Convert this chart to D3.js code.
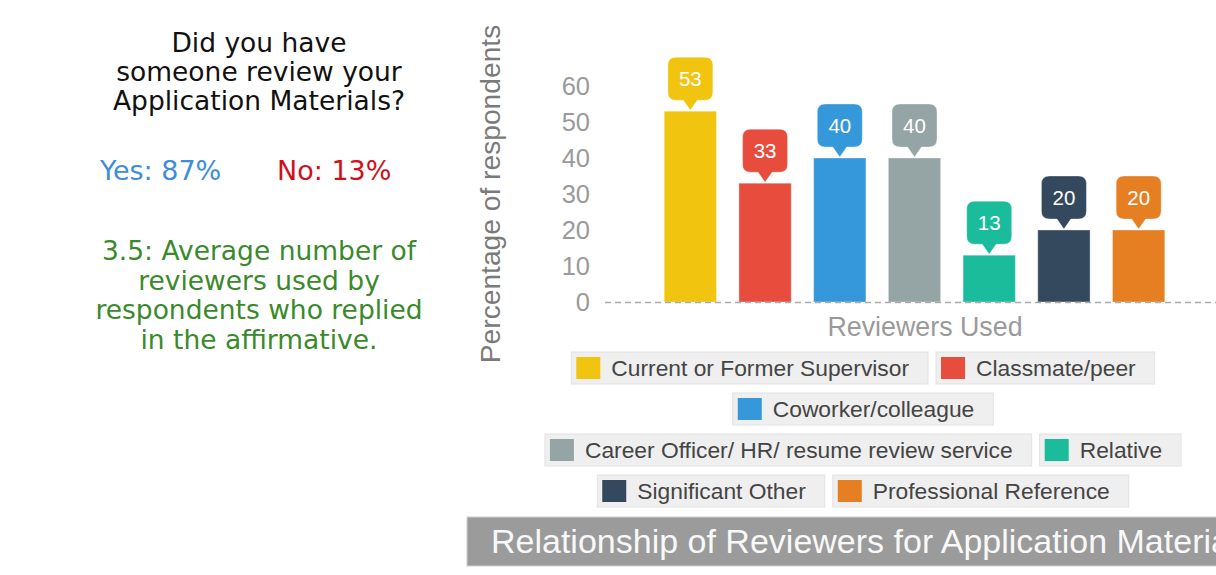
<!DOCTYPE html>
<html>
<head>
<meta charset="utf-8">
<script src="https://cdn.jsdelivr.net/npm/d3@7/dist/d3.min.js"></script>
<style>
  html, body { margin: 0; padding: 0; background: #fff; }
  svg { display: block; }
</style>
</head>
<body>
<div id="chart"></div>
<script>
// reviewer categories and the share of respondents using each
const categories = [
  "Current or Former Supervisor",
  "Classmate/peer",
  "Coworker/colleague",
  "Career Officer/ HR/ resume review service",
  "Relative",
  "Significant Other",
  "Professional Reference"
];
const values = [53, 33, 40, 40, 13, 20, 20];
const colors = ["#f1c40f", "#e74c3c", "#3498db", "#95a5a6", "#1abc9c", "#34495e", "#e67e22"];
const yTicks = [0, 10, 20, 30, 40, 50, 60];

const questionLines = ["Did you have", "someone review your", "Application Materials?"];
const yesText = "Yes: 87%";
const noText = "No: 13%";
const averageLines = ["3.5: Average number of", "reviewers used by", "respondents who replied", "in the affirmative."];

const width = 1216, height = 575;
const sans = "'Liberation Sans', Arial, Helvetica, sans-serif";
const wide = "'DejaVu Sans', 'Liberation Sans', sans-serif";

const svg = d3.select("#chart").append("svg")
    .attr("width", width)
    .attr("height", height);

// ---- left hand text block ----
const left = svg.append("g").attr("font-family", wide).attr("text-anchor", "middle");
left.selectAll("text.q")
    .data(questionLines)
    .join("text")
      .attr("class", "q")
      .attr("x", 259)
      .attr("y", (d, i) => 52 + i * 29)
      .attr("font-size", 26.5)
      .attr("fill", "#111")
      .text(d => d);

left.append("text")
    .attr("x", 100).attr("y", 180)
    .attr("text-anchor", "start")
    .attr("font-size", 27)
    .attr("fill", "#3d8ddb")
    .text(yesText);
left.append("text")
    .attr("x", 277).attr("y", 180)
    .attr("text-anchor", "start")
    .attr("font-size", 27)
    .attr("fill", "#d0101a")
    .text(noText);

left.selectAll("text.avg")
    .data(averageLines)
    .join("text")
      .attr("class", "avg")
      .attr("x", 259)
      .attr("y", (d, i) => 260 + i * 29.5)
      .attr("font-size", 26.5)
      .attr("fill", "#3a8a2c")
      .text(d => d);

// ---- bar chart ----
const y = d3.scaleLinear().domain([0, 60]).range([302, 86]);
const x = d3.scaleBand()
    .domain(categories)
    .range([653, 1176])
    .paddingInner(0.3)
    .paddingOuter(0.15);
const color = d3.scaleOrdinal(categories, colors);

const data = categories.map((c, i) => ({ name: c, value: values[i] }));

const yAxis = svg.append("g")
    .attr("transform", "translate(590,0)")
    .call(d3.axisLeft(y).tickValues(yTicks).tickSize(0).tickPadding(0));
yAxis.select(".domain").remove();
yAxis.selectAll("text")
    .attr("font-family", sans)
    .attr("font-size", 25.5)
    .attr("fill", "#9a9a9a");

// axis titles
svg.append("text")
    .attr("transform", "translate(500,194) rotate(-90)")
    .attr("text-anchor", "middle")
    .attr("font-family", sans)
    .attr("font-size", 28.2)
    .attr("fill", "#7a7a7a")
    .text("Percentage of respondents");

svg.append("text")
    .attr("x", 925).attr("y", 336)
    .attr("text-anchor", "middle")
    .attr("font-family", sans)
    .attr("font-size", 26.8)
    .attr("fill", "#9a9a9a")
    .text("Reviewers Used");

// bars
svg.selectAll("rect.bar")
    .data(data)
    .join("rect")
      .attr("class", "bar")
      .attr("x", d => x(d.name))
      .attr("y", d => y(d.value))
      .attr("width", x.bandwidth())
      .attr("height", d => y(0) - y(d.value))
      .attr("fill", d => color(d.name))
      .attr("stroke", "rgba(255,255,255,0.35)")
      .attr("stroke-width", 1);

// dashed zero line
svg.append("line")
    .attr("x1", 605).attr("x2", width)
    .attr("y1", y(0) + 0.5).attr("y2", y(0) + 0.5)
    .attr("stroke", "#aaa")
    .attr("stroke-width", 1.5)
    .attr("stroke-dasharray", "6,4");

// value callouts (rounded box with a pointer down to the bar)
function bubble(cx, tip) {
  const w = 45, h = 43, r = 8, ph = 10, pw = 7;
  const bottom = tip - ph, top = bottom - h;
  const l = cx - w / 2, rt = cx + w / 2;
  return `M${l + r},${top} H${rt - r} Q${rt},${top} ${rt},${top + r} V${bottom - r}` +
         ` Q${rt},${bottom} ${rt - r},${bottom} H${cx + pw} L${cx},${tip} L${cx - pw},${bottom}` +
         ` H${l + r} Q${l},${bottom} ${l},${bottom - r} V${top + r} Q${l},${top} ${l + r},${top} Z`;
}

const callouts = svg.selectAll("g.callout")
    .data(data)
    .join("g")
      .attr("class", "callout");
callouts.append("path")
    .attr("d", d => bubble(x(d.name) + x.bandwidth() / 2, y(d.value) - 1))
    .attr("fill", d => color(d.name))
    .attr("stroke", "rgba(255,255,255,0.35)");
callouts.append("text")
    .attr("x", d => x(d.name) + x.bandwidth() / 2)
    .attr("y", d => y(d.value) - 11 - 21.5)
    .attr("dy", "0.35em")
    .attr("text-anchor", "middle")
    .attr("font-family", sans)
    .attr("font-size", 20.5)
    .attr("fill", "#fff")
    .text(d => d.value);

// ---- legend, wrapped into centred rows ----
const legendCenter = 863, legendMax = 660, legendTop = 352, rowStep = 41;
const boxH = 32, gap = 8, textOffset = 40, padRight = 19;

const legend = svg.append("g").attr("font-family", sans).attr("font-size", 22.8);
const items = legend.selectAll("g.item")
    .data(data)
    .join("g")
      .attr("class", "item");
items.append("rect")
    .attr("class", "bg")
    .attr("height", boxH)
    .attr("fill", "#efefef")
    .attr("stroke", "#e2e2e2");
items.append("rect")
    .attr("x", 5).attr("y", 5)
    .attr("width", 24).attr("height", 22)
    .attr("fill", d => color(d.name));
items.append("text")
    .attr("x", textOffset)
    .attr("y", 24)
    .attr("fill", "#444")
    .text(d => d.name);

items.each(function (d) {
  d.w = textOffset + this.querySelector("text").getComputedTextLength() + padRight;
});
items.select("rect.bg").attr("width", d => d.w);

const rows = [];
let cur = [];
data.forEach(d => {
  const used = d3.sum(cur, e => e.w) + gap * cur.length;
  if (cur.length && used + d.w > legendMax) { rows.push(cur); cur = []; }
  cur.push(d);
});
rows.push(cur);
rows.forEach((row, ri) => {
  const total = d3.sum(row, e => e.w) + gap * (row.length - 1);
  let px = legendCenter - total / 2;
  row.forEach(d => { d.lx = px; d.ly = legendTop + ri * rowStep; px += d.w + gap; });
});
items.attr("transform", d => `translate(${d.lx},${d.ly})`);

// ---- chart title strip (runs off the right edge, as in the source) ----
svg.append("rect")
    .attr("x", 467).attr("y", 517)
    .attr("width", 760).attr("height", 49)
    .attr("fill", "#9b9b9b")
    .attr("stroke", "#cfcfcf");
svg.append("text")
    .attr("x", 491).attr("y", 553)
    .attr("font-family", sans)
    .attr("font-size", 34)
    .attr("fill", "#f8f8f8")
    .text("Relationship of Reviewers for Application Materials");
</script>
</body>
</html>
